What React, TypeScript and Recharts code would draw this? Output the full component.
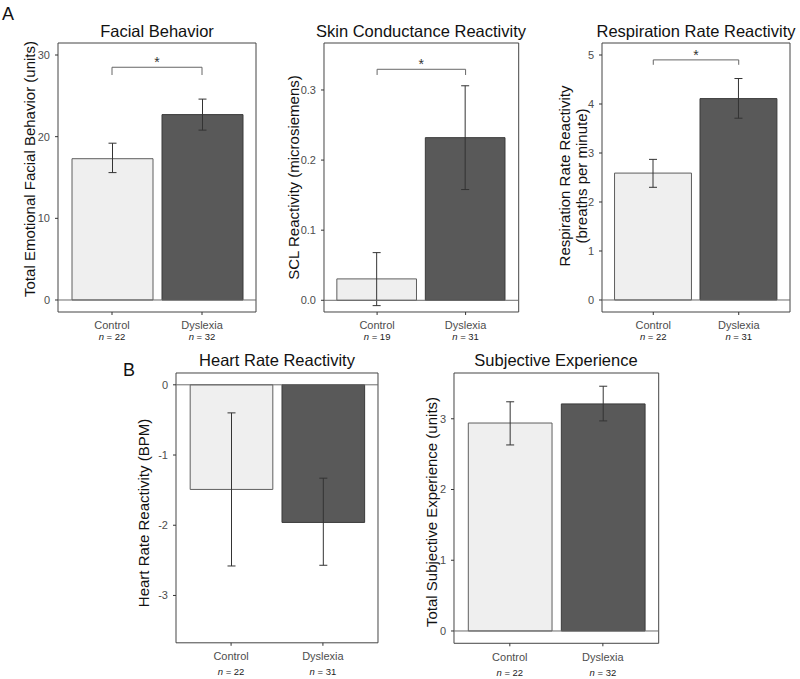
import React from "react";
import {
  BarChart,
  Bar,
  XAxis,
  YAxis,
  Cell,
  ErrorBar,
  ReferenceLine,
  ReferenceArea,
} from "recharts";

const FONT = "'Liberation Sans', Arial, Helvetica, sans-serif";

const GROUPS = ["Control", "Dyslexia"];
const GROUP_FILL = ["#efefef", "#595959"];
const GROUP_STROKE = ["#5e5e5e", "#3a3a3a"];

// Facial Behavior
const facialMean = [17.3, 22.7];
const facialLow = [15.6, 20.8];
const facialHigh = [19.2, 24.6];
const facialN = [22, 32];
const facialTicks = [0, 10, 20, 30];
const facialSig = [28.5, 27.55];

// Skin Conductance Reactivity
const sclMean = [0.0305, 0.232];
const sclLow = [-0.0076, 0.158];
const sclHigh = [0.068, 0.306];
const sclN = [19, 31];
const sclTicks = [0, 0.1, 0.2, 0.3];
const sclSig = [0.3295, 0.3214];

// Respiration Rate Reactivity
const respMean = [2.59, 4.11];
const respLow = [2.3, 3.71];
const respHigh = [2.87, 4.52];
const respN = [22, 31];
const respTicks = [0, 1, 2, 3, 4, 5];
const respSig = [4.9, 4.8];

// Heart Rate Reactivity
const hrMean = [-1.49, -1.96];
const hrLow = [-2.58, -2.57];
const hrHigh = [-0.4, -1.33];
const hrN = [22, 31];
const hrTicks = [0, -1, -2, -3];

// Subjective Experience
const subjMean = [2.94, 3.21];
const subjLow = [2.63, 2.97];
const subjHigh = [3.24, 3.46];
const subjN = [22, 32];
const subjTicks = [0, 1, 2, 3];

const ML = 60;
const MT = 40;
const MR = 10;
const MB = 45;

function GroupTick(props: any) {
  const { x, y, payload, n, gap } = props;
  const i = Math.round(payload.value) - 1;
  return (
    <g>
      <text x={x} y={y + gap[0]} textAnchor="middle" fontSize={11} fill="#4d4d4d" fontFamily={FONT}>
        {GROUPS[i]}
      </text>
      <text x={x} y={y + gap[1]} textAnchor="middle" fontSize={9.5} fill="#222" fontFamily={FONT}>
        <tspan fontStyle="italic">n</tspan> = {n[i]}
      </text>
    </g>
  );
}

type PanelProps = {
  box: number[]; // left, top, right, bottom
  domain: [number, number];
  mean: number[];
  low: number[];
  high: number[];
  n: number[];
  ticks: number[];
  decimals?: number;
  sig?: number[];
  gap: number[];
};

function Panel(p: PanelProps) {
  const [x1, y1, x2, y2] = p.box;
  const w = x2 - x1;
  const h = y2 - y1;
  const barSize = (w / 2.2) * 0.9;
  const data = GROUPS.map((g, i) => ({
    pos: i + 1,
    name: g,
    mean: p.mean[i],
    err: [p.mean[i] - p.low[i], p.high[i] - p.mean[i]],
  }));

  return (
    <div style={{ position: "absolute", left: x1 - ML, top: y1 - MT }}>
      <BarChart
        width={w + ML + MR}
        height={h + MT + MB}
        data={data}
        margin={{ top: MT, right: MR, bottom: 0, left: 0 }}
      >
        <XAxis
          dataKey="pos"
          type="number"
          domain={[0.4, 2.6]}
          ticks={[1, 2]}
          allowDataOverflow
          axisLine={false}
          tickLine={{ stroke: "#333" }}
          tickSize={3}
          height={MB}
          tick={<GroupTick n={p.n} gap={p.gap} />}
        />
        <YAxis
          type="number"
          domain={p.domain}
          ticks={p.ticks}
          allowDataOverflow
          axisLine={false}
          tickLine={{ stroke: "#333" }}
          tickSize={3}
          tickMargin={5}
          width={ML}
          tick={{ fill: "#4d4d4d", fontSize: 11, fontFamily: FONT }}
          tickFormatter={(v: number) => v.toFixed(p.decimals ?? 0)}
        />
        <Bar dataKey="mean" barSize={barSize} isAnimationActive={false}>
          {data.map((d, i) => (
            <Cell key={d.name} fill={GROUP_FILL[i]} stroke={GROUP_STROKE[i]} strokeWidth={1} />
          ))}
          <ErrorBar dataKey="err" width={4} stroke="#333" strokeWidth={1} direction="y" />
        </Bar>
        <ReferenceLine y={0} stroke="#6b6b6b" />
        {p.sig && (
          <ReferenceLine
            segment={[
              { x: 1, y: p.sig[0] },
              { x: 2, y: p.sig[0] },
            ]}
            stroke="#666"
            ifOverflow="visible"
            label={{ value: "*", position: "top", offset: 0, fill: "#333", fontSize: 14, fontFamily: FONT }}
          />
        )}
        {p.sig && (
          <ReferenceLine
            segment={[
              { x: 1, y: p.sig[0] },
              { x: 1, y: p.sig[1] },
            ]}
            stroke="#666"
            ifOverflow="visible"
          />
        )}
        {p.sig && (
          <ReferenceLine
            segment={[
              { x: 2, y: p.sig[0] },
              { x: 2, y: p.sig[1] },
            ]}
            stroke="#666"
            ifOverflow="visible"
          />
        )}
        <ReferenceArea
          x1={0.4}
          x2={2.6}
          y1={p.domain[0]}
          y2={p.domain[1]}
          fill="none"
          fillOpacity={0}
          stroke="#444"
          strokeWidth={1}
          ifOverflow="visible"
        />
      </BarChart>
    </div>
  );
}

function YTitle({ x, y, lines }: { x: number; y: number; lines: string[] }) {
  return (
    <text
      transform={`translate(${x}, ${y}) rotate(-90)`}
      textAnchor="middle"
      fontSize={15}
      fill="#111"
      fontFamily={FONT}
    >
      {lines.map((l, i) => (
        <tspan key={l} x={0} dy={i === 0 ? (lines.length > 1 ? "-0.2em" : "0.35em") : "1.1em"}>
          {l}
        </tspan>
      ))}
    </text>
  );
}

export default function App() {
  return (
    <div
      style={{
        position: "absolute",
        left: 0,
        top: 0,
        width: 800,
        height: 679,
        background: "#fff",
        overflow: "hidden",
      }}
    >
      <svg width={800} height={679} style={{ position: "absolute", left: 0, top: 0 }}>
        <text x={2} y={20} fontSize={18} fontFamily={FONT} fill="#111">A</text>
        <text x={123} y={376} fontSize={18} fontFamily={FONT} fill="#111">B</text>
        <g fontSize={16.5} fontFamily={FONT} fill="#111" textAnchor="middle">
          <text x={157} y={36.5}>Facial Behavior</text>
          <text x={421} y={36.5}>Skin Conductance Reactivity</text>
          <text x={696} y={36.5}>Respiration Rate Reactivity</text>
          <text x={277} y={365.5}>Heart Rate Reactivity</text>
          <text x={556} y={366}>Subjective Experience</text>
        </g>
        <YTitle x={30} y={169} lines={["Total Emotional Facial Behavior (units)"]} />
        <YTitle x={293.5} y={177.5} lines={["SCL Reactivity (microsiemens)"]} />
        <YTitle x={573} y={176} lines={["Respiration Rate Reactivity", "(breaths per minute)"]} />
        <YTitle x={143.5} y={513} lines={["Heart Rate Reactivity (BPM)"]} />
        <YTitle x={431.5} y={512} lines={["Total Subjective Experience (units)"]} />
      </svg>

      <Panel
        box={[58, 43, 256, 312]}
        domain={[-1.47, 31.47]}
        mean={facialMean}
        low={facialLow}
        high={facialHigh}
        n={facialN}
        ticks={facialTicks}
        sig={facialSig}
        gap={[12, 23]}
      />
      <Panel
        box={[324.3, 43, 519, 312]}
        domain={[-0.0167, 0.367]}
        mean={sclMean}
        low={sclLow}
        high={sclHigh}
        n={sclN}
        ticks={sclTicks}
        decimals={1}
        sig={sclSig}
        gap={[12, 23]}
      />
      <Panel
        box={[602, 43, 790, 312]}
        domain={[-0.245, 5.245]}
        mean={respMean}
        low={respLow}
        high={respHigh}
        n={respN}
        ticks={respTicks}
        sig={respSig}
        gap={[12, 23]}
      />
      <Panel
        box={[176, 372.5, 378, 642.3]}
        domain={[-3.674, 0.168]}
        mean={hrMean}
        low={hrLow}
        high={hrHigh}
        n={hrN}
        ticks={hrTicks}
        gap={[12.5, 27.5]}
      />
      <Panel
        box={[454.3, 373, 659, 643.3]}
        domain={[-0.174, 3.647]}
        mean={subjMean}
        low={subjLow}
        high={subjHigh}
        n={subjN}
        ticks={subjTicks}
        gap={[12.5, 27.5]}
      />
    </div>
  );
}
